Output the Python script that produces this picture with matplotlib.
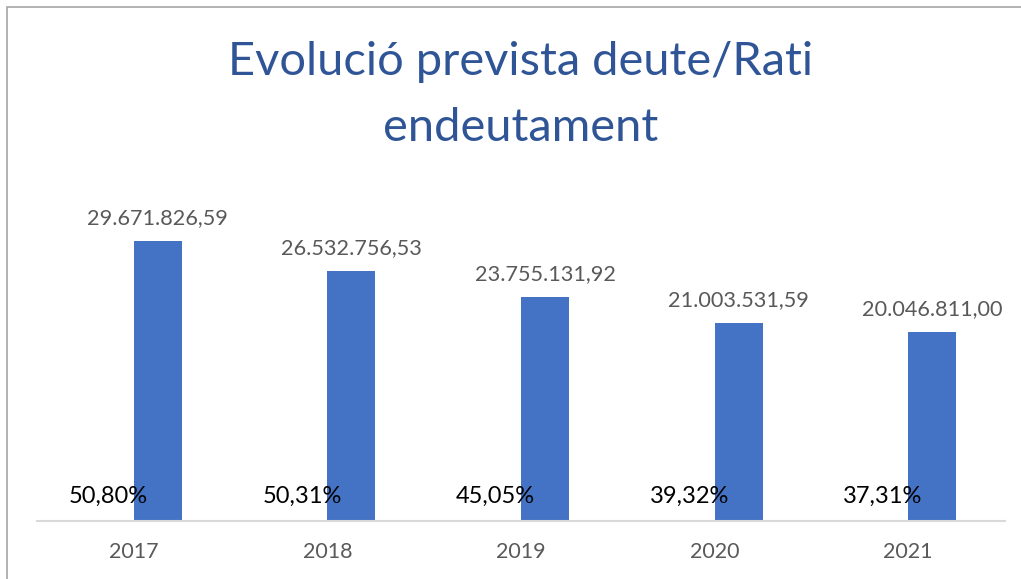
import matplotlib
matplotlib.use("Agg")
import matplotlib.pyplot as plt
import matplotlib.patches as mpatches
import numpy as np

# Data
years = ["2017", "2018", "2019", "2020", "2021"]
deute = [29671826.59, 26532756.53, 23755131.92, 21003531.59, 20046811.00]
rati = [50.80, 50.31, 45.05, 39.32, 37.31]

BAR_BLUE = "#4472C4"
TITLE_BLUE = "#2F5597"
GREY_TXT = "#595959"
FONT = "Lato"


def fmt_eur(v, dec=2):
    s = f"{v:,.{dec}f}"
    return s.replace(",", "X").replace(".", ",").replace("X", ".")


fig = plt.figure(figsize=(10.21, 5.79), dpi=100)

# chart border (crop of a larger chart frame)
fig.patches.append(mpatches.Rectangle((7 / 1021, -0.1), 1.2, 1 - 7 / 579 + 0.1,
                                      transform=fig.transFigure, fill=False,
                                      edgecolor="#A6A6A6", linewidth=1.2))

ax = fig.add_axes([37 / 1021, 1 - 521 / 579, (1005 - 37) / 1021, (521 - 191) / 579])

x = np.arange(len(years))
w = 0.248
bars = ax.bar(x + w / 2, deute, width=w, color=BAR_BLUE)

for xi, v in zip(x, deute):
    ax.annotate(fmt_eur(v), xy=(xi + w / 2, v), xytext=(0, 12),
                textcoords="offset points", ha="center", va="baseline",
                fontsize=15.6, color=GREY_TXT, family=FONT)

for xi, r in zip(x, rati):
    ax.annotate(fmt_eur(r) + "%", xy=(xi - w / 2, 0), xytext=(-1, 13),
                textcoords="offset points", ha="center", va="baseline",
                fontsize=17, color="black", family=FONT)

ax.set_xlim(-0.5, len(years) - 0.5)
ax.set_ylim(0, 35e6)
ax.set_xticks(x)
ax.set_xticklabels(years, fontsize=15.5, color=GREY_TXT, family=FONT)
ax.tick_params(axis="x", length=0, pad=15)
ax.set_yticks([])
for s in ["top", "right", "left"]:
    ax.spines[s].set_visible(False)
ax.spines["bottom"].set_color("#D9D9D9")
ax.spines["bottom"].set_linewidth(1.5)

fig.text(0.51, 1 - 62 / 579, "Evolució prevista deute/Rati", ha="center", va="center",
         fontsize=33.8, color=TITLE_BLUE, family=FONT)
fig.text(0.51, 1 - 128 / 579, "endeutament", ha="center", va="center",
         fontsize=33.8, color=TITLE_BLUE, family=FONT)

fig.savefig("out.png", dpi=100)
